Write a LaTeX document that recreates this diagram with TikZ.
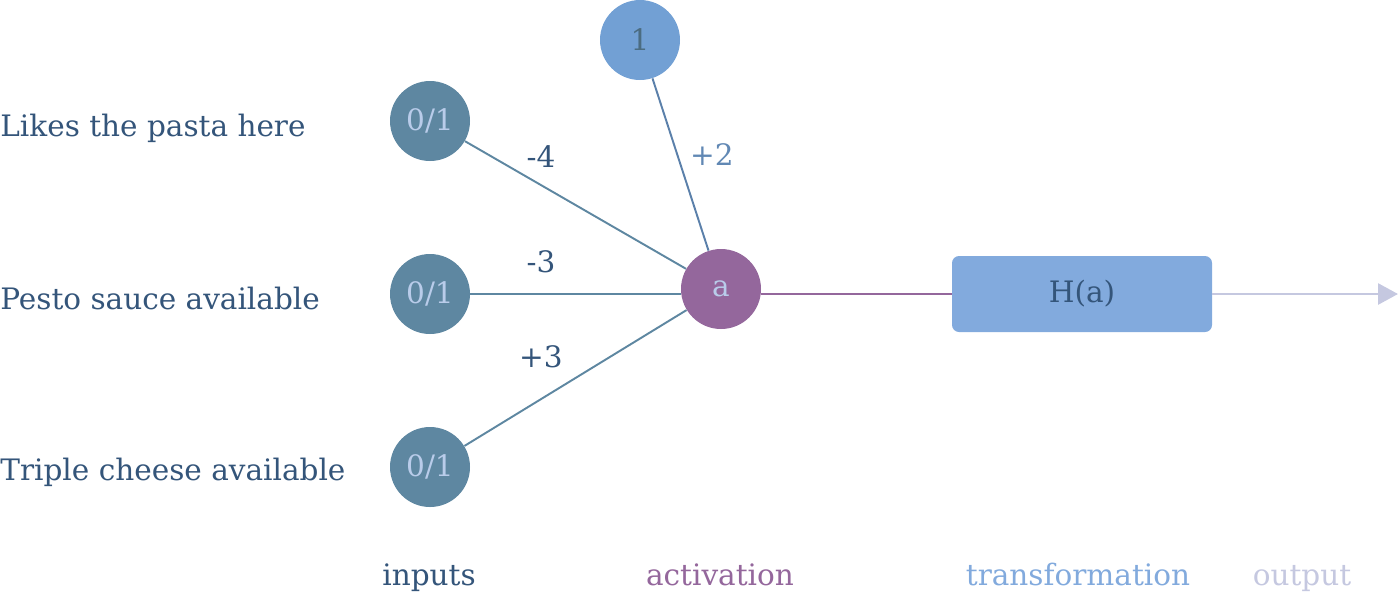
\documentclass[tikz,border=0pt]{standalone}
\usepackage{fontspec}
\setmainfont{DejaVu Serif}
\usetikzlibrary{arrows.meta,positioning}
\definecolor{inblue}{HTML}{5E87A1}
\definecolor{inktext}{HTML}{34557A}
\definecolor{biasblue}{HTML}{72A0D4}
\definecolor{actpurple}{HTML}{94679C}
\definecolor{boxblue}{HTML}{82AADD}
\definecolor{outlav}{HTML}{C5C8E0}
\definecolor{palenum}{HTML}{B9CCEA}

\begin{document}
\begin{tikzpicture}[
        font=\fontsize{16.8}{19}\selectfont,
        unit/.style={
          circle,
          minimum size=1.6cm,
          inner sep=0pt,
          fill=inblue,
          text=palenum
        },
        feature/.style={
          text=inktext,
          anchor=base west,
          inner sep=0pt
        },
        weight/.style={text=inktext},
        stage/.style={inner sep=0pt, anchor=base},
        link/.style={line width=1.1pt}
        ]
      \useasboundingbox (0,0) rectangle (28,-11.88);
      % inputs
      \node[unit] (pasta) at (8.6,-2.42) {0/1};
      \node[unit] (pesto) at (8.6,-5.88) {0/1};
      \node[unit] (cheese) at (8.6,-9.34) {0/1};
      \node[feature] (pastatext) at (0,-2.72) {Likes the pasta here};
      \node[feature] (pestotext) at (0,-6.18) {Pesto sauce available};
      \node[feature] (cheesetext) at (0,-9.6) {Triple cheese available};
      % bias and activation
      \node[unit, fill=biasblue, text=inblue!80!black] (bias) at (12.8,-0.8) {1};
      \node[unit, fill=actpurple] (act) at (14.42,-5.78) {a};
      \node[rectangle, rounded corners=4pt, fill=boxblue, minimum width=5.2cm,
        minimum height=1.52cm, text=inktext] (heaviside) at (21.64,-5.88) {H(a)};
      \coordinate (out) at (27.96,-5.88);
      % connectors
      \draw[inblue, link] (pasta) -- (act);
      \draw[inblue, link, line width=1.6pt] (pesto) -- (act.west |- pesto);
      \draw[inblue, link] (cheese) -- (act);
      \draw[biasblue!80!black, link] (bias) -- (act);
      \draw[actpurple, link, line width=1.6pt] (act.east |- heaviside) -- (heaviside);
      \draw[outlav, link, line width=1.6pt, -{Triangle[length=0.4cm,width=0.42cm]}] (heaviside) -- (out);
      % weights
      \node[weight] (wpasta) at (10.82,-3.14) {-4};
      \node[weight] (wpesto) at (10.82,-5.24) {-3};
      \node[weight] (wcheese) at (10.82,-7.14) {+3};
      \node[weight, text=biasblue!85!black] (wbias) at (14.24,-3.1) {+2};
      % stages
      \node[stage, text=inktext] (inputs) at (8.58,-11.7) {inputs};
      \node[stage, text=actpurple] (activation) at (14.4,-11.7) {activation};
      \node[stage, text=boxblue] (transformation) at (21.56,-11.7) {transformation};
      \node[stage, text=outlav] (output) at (26.04,-11.7) {output};
\end{tikzpicture}
\end{document}
